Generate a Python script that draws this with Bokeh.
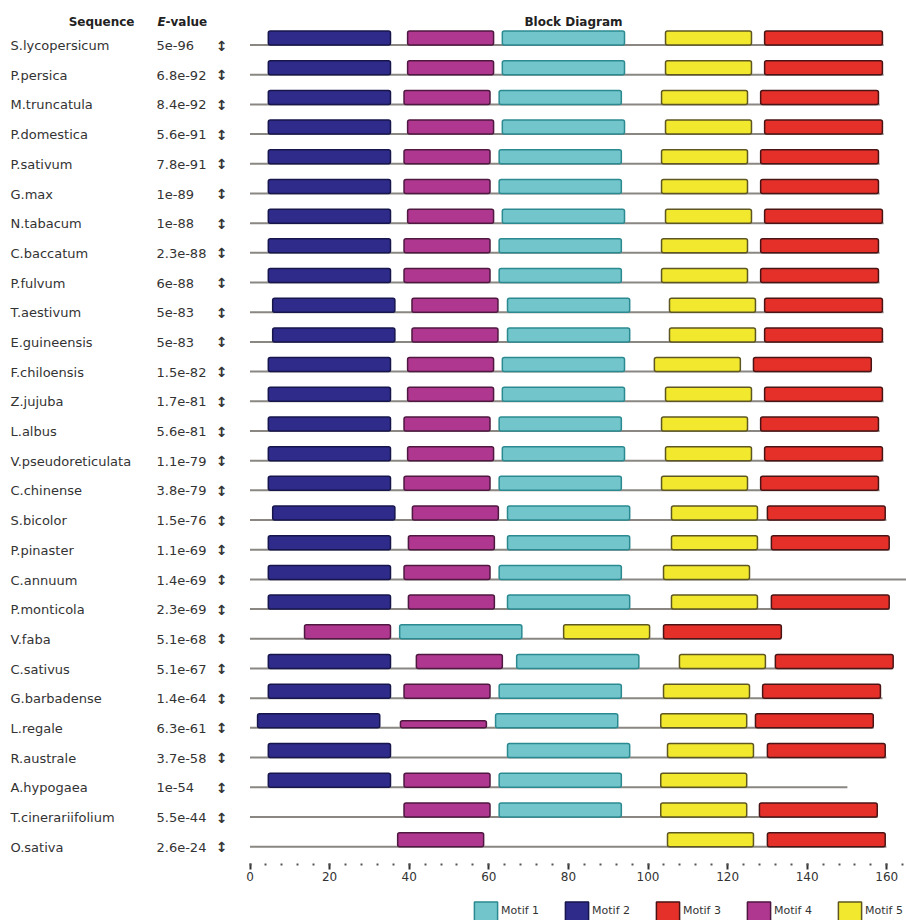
from bokeh.plotting import figure
from bokeh.models import Range1d, LinearAxis, FixedTicker, ColumnDataSource
from bokeh.core.properties import value
from bokeh.embed import file_html
from bokeh.resources import INLINE

# ---------------- data ----------------
sequences = ["S.lycopersicum", "P.persica", "M.truncatula", "P.domestica", "P.sativum",
             "G.max", "N.tabacum", "C.baccatum", "P.fulvum", "T.aestivum",
             "E.guineensis", "F.chiloensis", "Z.jujuba", "L.albus", "V.pseudoreticulata",
             "C.chinense", "S.bicolor", "P.pinaster", "C.annuum", "P.monticola",
             "V.faba", "C.sativus", "G.barbadense", "L.regale", "R.australe",
             "A.hypogaea", "T.cinerariifolium", "O.sativa"]
evalues = ["5e-96", "6.8e-92", "8.4e-92", "5.6e-91", "7.8e-91",
           "1e-89", "1e-88", "2.3e-88", "6e-88", "5e-83",
           "5e-83", "1.5e-82", "1.7e-81", "5.6e-81", "1.1e-79",
           "3.8e-79", "1.5e-76", "1.1e-69", "1.4e-69", "2.3e-69",
           "5.1e-68", "5.1e-67", "1.4e-64", "6.3e-61", "3.7e-58",
           "1e-54", "5.5e-44", "2.6e-24"]
seq_length = [159.2, 159.2, 158.2, 159.2, 158.2, 158.2, 159.2, 158.2, 158.2, 159.2,
              159.2, 156.2, 159.2, 158.2, 159.2, 158.2, 159.9, 160.7, 170.0, 160.7,
              133.5, 161.6, 158.9, 156.7, 159.9, 150.1, 157.7, 159.9]
motif1_start = [63.4, 63.4, 62.6, 63.4, 62.6, 62.6, 63.4, 62.6, 62.6, 64.7,
                64.7, 63.4, 63.4, 62.6, 63.4, 62.6, 64.7, 64.7, 62.6, 64.7,
                37.6, 67.0, 62.6, 61.7, 64.7, 62.6, 62.6, None]
motif2_start = [4.6, 4.6, 4.6, 4.6, 4.6, 4.6, 4.6, 4.6, 4.6, 5.7,
                5.7, 4.6, 4.6, 4.6, 4.6, 4.6, 5.7, 4.6, 4.6, 4.6,
                None, 4.6, 4.6, 1.9, 4.6, 4.6, None, None]
motif3_start = [129.3, 129.3, 128.3, 129.3, 128.3, 128.3, 129.3, 128.3, 128.3, 129.3,
                129.3, 126.5, 129.3, 128.3, 129.3, 128.3, 130.0, 131.0, None, 131.0,
                103.9, 132.0, 128.8, 127.0, 130.0, None, 128.0, 130.0]
motif4_start = [39.6, 39.6, 38.7, 39.6, 38.7, 38.7, 39.6, 38.7, 38.7, 40.7,
                40.7, 39.6, 39.6, 38.7, 39.6, 38.7, 40.8, 39.8, 38.7, 39.8,
                13.7, 41.8, 38.7, 37.8, None, 38.7, 38.7, 37.1]
motif5_start = [104.4, 104.4, 103.4, 104.4, 103.4, 103.4, 104.4, 103.4, 103.4, 105.4,
                105.4, 101.6, 104.4, 103.4, 104.4, 103.4, 105.9, 105.9, 103.9, 105.9,
                78.8, 107.9, 103.9, 103.2, 104.9, 103.2, 103.2, 104.9]
motif_names = ["Motif 1", "Motif 2", "Motif 3", "Motif 4", "Motif 5"]
motif_width = [30.7, 30.7, 29.6, 21.6, 21.6]
# relative block height (site significance); 1 = full height
motif4_rel_height = [1.0] * 23 + [0.5] + [1.0] * 4
axis_ticks = [0, 20, 40, 60, 80, 100, 120, 140, 160]
axis_minor_ticks = list(range(0, 168, 4))

# ---------------- styling ----------------
fills = ["#73C5CC", "#2F2B8A", "#E5302A", "#B0378F", "#F2E92E"]
edges = ["#2A8A90", "#17164C", "#4A1414", "#4E1840", "#5E5722"]
TXT = "#333333"
FONT = "DejaVu Sans"

W, H = 906, 920
OFF = 0                   # page offset of the canvas
X0, SC = 249.5, 3.98      # page px of position 0, px per residue
Y0, RS = 44.5, 29.69      # page px of first sequence line, row spacing


def fx(px):
    return (px - X0) / SC


def fy(py):
    return -(py - Y0) / RS


BLOCK_H = 14.0 / RS

p = figure(width=W, height=H, output_backend="svg", toolbar_location=None,
           x_range=Range1d(fx(OFF), fx(OFF + W)), y_range=Range1d(fy(OFF + H), fy(OFF)),
           x_axis_type=None, y_axis_type=None, min_border=0)
p.outline_line_color = None
p.background_fill_color = "white"
p.border_fill_color = "white"

rows = [-i for i in range(len(sequences))]

# sequence lines
p.segment(x0=[0] * len(rows), y0=rows, x1=seq_length, y1=rows,
          line_color="#8A8783", line_width=2)

# motif blocks
starts = [motif1_start, motif2_start, motif3_start, motif4_start, motif5_start]
for k in range(5):
    l, r, b, t = [], [], [], []
    for i, s in enumerate(starts[k]):
        if s is None:
            continue
        h = motif4_rel_height[i] if k == 3 else 1.0
        l.append(s)
        r.append(s + motif_width[k])
        b.append(rows[i])
        t.append(rows[i] + BLOCK_H * h)
    src = ColumnDataSource(dict(left=l, right=r, bottom=b, top=t))
    p.quad(left="left", right="right", bottom="bottom", top="top", source=src,
           fill_color=fills[k], line_color=edges[k], line_width=1.5,
           border_radius=2, legend_label=motif_names[k])

# text columns
ty = [y - 0.02 for y in rows]
p.text(x=[fx(10)] * len(rows), y=ty, text=sequences, text_font=value(FONT),
       text_font_size="13px", text_color=TXT, text_baseline="middle", text_align="left")
p.text(x=[fx(156)] * len(rows), y=ty, text=evalues, text_font=value(FONT),
       text_font_size="13px", text_color=TXT, text_baseline="middle", text_align="left")
p.text(x=[fx(221)] * len(rows), y=ty, text=["\u2195"] * len(rows), text_font=value(FONT),
       text_font_size="14px", text_font_style="bold", text_color=TXT,
       text_baseline="middle", text_align="center")

# headers
hy = fy(21)
p.text(x=[fx(134)], y=[hy], text=["Sequence"], text_font=value(FONT), text_font_size="12px",
       text_font_style="bold", text_color="#222222", text_baseline="middle", text_align="right")
p.text(x=[fx(157)], y=[hy], text=["E"], text_font=value(FONT), text_font_size="12px",
       text_font_style="bold italic", text_color="#222222", text_baseline="middle", text_align="left")
p.text(x=[fx(165)], y=[hy], text=["-value"], text_font=value(FONT), text_font_size="12px",
       text_font_style="bold", text_color="#222222", text_baseline="middle", text_align="left")
p.text(x=[fx(573)], y=[hy], text=["Block Diagram"], text_font=value(FONT), text_font_size="12px",
       text_font_style="bold", text_color="#222222", text_baseline="middle", text_align="center")

# position axis
axis = LinearAxis(fixed_location=fy(863),
                  ticker=FixedTicker(ticks=axis_ticks, minor_ticks=axis_minor_ticks),
                  axis_line_color=None,
                  major_tick_in=0, major_tick_out=6, major_tick_line_width=2,
                  major_tick_line_color="#333333",
                  minor_tick_in=0, minor_tick_out=2, minor_tick_line_width=2,
                  minor_tick_line_color="#555555",
                  major_label_standoff=2, major_label_text_font_size="12px",
                  major_label_text_font=FONT, major_label_text_color=TXT)
p.add_layout(axis, "below")

# legend
lg = p.legend[0]
lg.orientation = "horizontal"
lg.location = (474 - OFF - 2.9, (OFF + H) - 922.6)
lg.glyph_width = 29
lg.glyph_height = 24
lg.label_standoff = 1
lg.spacing = 23
lg.padding = 0
lg.margin = 0
lg.border_line_color = None
lg.background_fill_alpha = 0
lg.label_text_font = FONT
lg.label_text_font_size = "11px"
lg.label_text_color = TXT

open("out.html", "w").write(file_html(p, INLINE))
